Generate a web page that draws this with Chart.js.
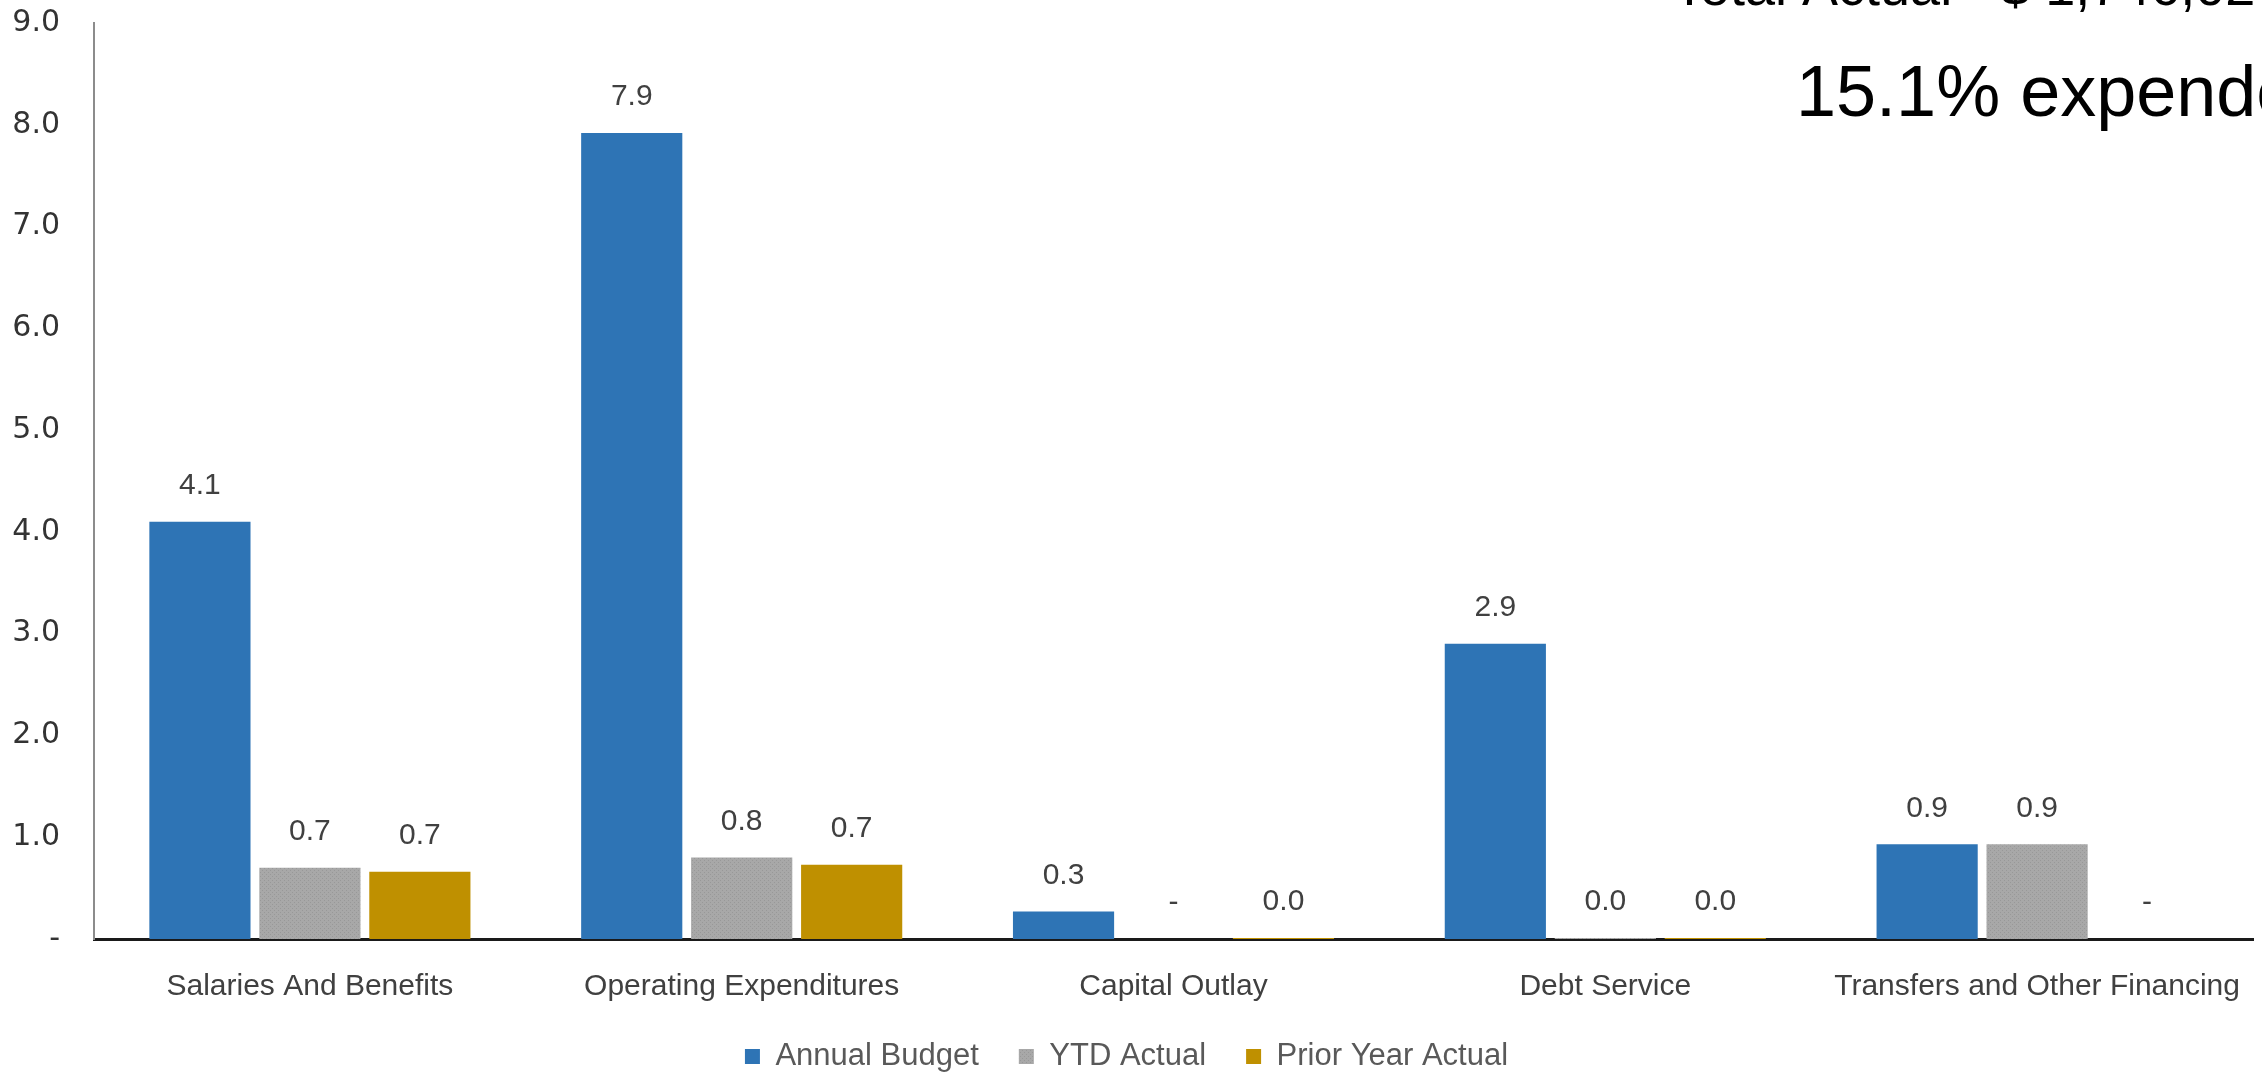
<!DOCTYPE html>
<html>
<head>
<meta charset="utf-8">
<script src="https://cdn.jsdelivr.net/npm/chart.js@4.4.1/dist/chart.umd.min.js"></script>
<style>
  html, body { margin: 0; padding: 0; background: #fff; }
  #wrap { width: 2262px; height: 1074px; position: relative; }
</style>
</head>
<body>
<div id="wrap"><canvas id="budgetChart" width="2262" height="1074"></canvas></div>
<script>
const categories = ['Salaries And Benefits', 'Operating Expenditures', 'Capital Outlay', 'Debt Service', 'Transfers and Other Financing'];
const annualBudget = [4.1, 7.92, 0.27, 2.9, 0.93];
const ytdActual = [0.70, 0.80, 0, 0.01, 0.93];
const priorYearActual = [0.66, 0.73, 0.01, 0.01, 0];
const yTicks = [0, 1, 2, 3, 4, 5, 6, 7, 8, 9];
const headerLine = 'Total Actual - $ 1,746,024';
const headerPct = '15.1% expended';

const fmt = v => (v === 0 ? '-' : v.toFixed(1));

// grey bars in the original have a faint dotted fill
function dotted(base, dot) {
    const c = document.createElement('canvas');
    c.width = 4; c.height = 4;
    const g = c.getContext('2d');
    g.fillStyle = base;
    g.fillRect(0, 0, 4, 4);
    g.fillStyle = dot;
    g.fillRect(0, 0, 1, 1);
    g.fillRect(2, 2, 1, 1);
    return g.createPattern(c, 'repeat');
}

const valueLabels = {
    id: 'valueLabels',
    afterDatasetsDraw(chart) {
        const ctx = chart.ctx;
        ctx.save();
        ctx.font = '30px "Liberation Sans Narrow", "Liberation Sans", sans-serif';
        ctx.fillStyle = '#404040';
        ctx.textAlign = 'center';
        ctx.textBaseline = 'middle';
        chart.data.datasets.forEach((ds, i) => {
            chart.getDatasetMeta(i).data.forEach((bar, j) => {
                ctx.fillText(fmt(ds.data[j]), bar.x, bar.y - 36);
            });
        });
        ctx.restore();
    }
};

const headerText = {
    id: 'headerText',
    afterDraw(chart) {
        const ctx = chart.ctx;
        ctx.save();
        ctx.fillStyle = '#000';
        ctx.textAlign = 'left';
        ctx.textBaseline = 'alphabetic';
        ctx.font = '54px "Liberation Sans", sans-serif';
        ctx.fillText(headerLine, 1673, 5);
        ctx.font = '72px "Liberation Sans", sans-serif';
        ctx.fillText(headerPct, 1796, 116);
        ctx.restore();
    }
};

const ctx = document.getElementById('budgetChart').getContext('2d');
new Chart(ctx, {
    type: 'bar',
    data: {
        labels: categories,
        datasets: [{
            label: 'Annual Budget',
            data: annualBudget,
            backgroundColor: '#2E74B5'
        }, {
            label: 'YTD Actual',
            data: ytdActual,
            backgroundColor: dotted('#A8A8A8', '#989898')
        }, {
            label: 'Prior Year Actual',
            data: priorYearActual,
            backgroundColor: '#BF9000'
        }]
    },
    options: {
        responsive: false,
        animation: false,
        devicePixelRatio: 1,
        layout: { padding: { top: 23, right: 9, left: 0, bottom: -8 } },
        datasets: {
            bar: { categoryPercentage: 0.764, barPercentage: 0.92 }
        },
        plugins: {
            tooltip: { enabled: false },
            legend: {
                position: 'bottom',
                labels: {
                    boxWidth: 15,
                    boxHeight: 15,
                    padding: 40,
                    color: '#595959',
                    font: { family: '"Liberation Sans", sans-serif', size: 31 }
                }
            }
        },
        scales: {
            x: {
                grid: { display: false, drawTicks: false },
                border: { color: '#1a1a1a', width: 3 },
                ticks: {
                    padding: 30,
                    color: '#404040',
                    font: { family: '"Liberation Sans", sans-serif', size: 30 }
                },
                afterFit: s => { s.height = 62; s.paddingLeft = 0; s.paddingRight = 0; }
            },
            y: {
                min: 0,
                max: 9,
                grid: { display: false, drawTicks: false },
                border: { color: '#8c8c8c', width: 2 },
                afterBuildTicks: s => { s.ticks = yTicks.map(v => ({ value: v })); },
                ticks: {
                    padding: 34,
                    color: '#333',
                    font: { family: '"DejaVu Sans", sans-serif', size: 30 },
                    callback: v => fmt(v)
                },
                afterFit: s => { s.width = 94; s.paddingTop = 0; s.paddingBottom = 0; }
            }
        }
    },
    plugins: [valueLabels, headerText]
});
</script>
</body>
</html>
